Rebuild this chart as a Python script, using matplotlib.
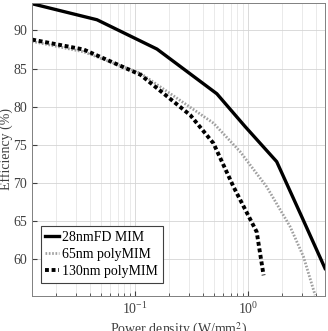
import matplotlib
matplotlib.use("Agg")
import matplotlib.pyplot as plt

plt.rcParams['font.family'] = ['Liberation Serif', 'DejaVu Serif']
plt.rcParams['mathtext.fontset'] = 'stix'

# 28nm FD MIM
x_fd = [0.0122, 0.0458, 0.1556, 0.528, 0.94, 1.79, 2.98, 4.8]
y_fd = [93.5, 91.4, 87.56, 81.7, 77.4, 72.8, 65.6, 58.8]

# 65nm polyMIM
x_65 = [0.0122, 0.0349, 0.1107, 0.493, 0.85, 1.46, 2.35, 3.09, 3.92]
y_65 = [88.56, 87.2, 84.4, 77.85, 74.1, 69.5, 64.3, 60.35, 55.3]

# 130nm polyMIM
x_130 = [0.0122, 0.0349, 0.111, 0.307, 0.493, 0.742, 1.19, 1.37]
y_130 = [88.8, 87.5, 84.2, 78.9, 75.2, 69.5, 63.6, 57.9]

fig = plt.figure(figsize=(3.28, 3.31), dpi=100)
ax = fig.add_axes([0.098, 0.106, 0.893, 0.885])

ax.plot(x_fd, y_fd, color='black', lw=2.4, label='28nmFD MIM')
ax.plot(x_65, y_65, color='#a0a0a0', lw=2.0, ls=(0, (0.6, 0.6)), label='65nm polyMIM')
ax.plot(x_130, y_130, color='black', lw=2.8, ls=(0, (1.0, 0.7)), label='130nm polyMIM')

ax.set_xscale('log')
ax.set_xlim(0.0122, 4.8)
ax.set_ylim(55.2, 93.6)
ax.set_yticks([60, 65, 70, 75, 80, 85, 90])
ax.grid(True, which='major', color='#d4d4d4', lw=0.6)
ax.grid(True, which='minor', axis='x', color='#e2e2e2', lw=0.5)
ax.tick_params(which='both', direction='in', labelsize=10, colors='#404040')
for s in ax.spines.values():
    s.set_color('#808080')
    s.set_linewidth(0.7)

ax.set_ylabel('Efficiency (%)', fontsize=10, color='#404040', labelpad=0)
ax.set_xlabel('Power density (W/mm$^2$)', fontsize=10, color='#404040', labelpad=3)

leg = ax.legend(loc='lower left', fontsize=10, handlelength=1.0, handletextpad=0.2,
                borderpad=0.35, labelspacing=0.3, fancybox=False, framealpha=1,
                bbox_to_anchor=(0.005, 0.02))
leg.get_frame().set_edgecolor('#404040')
leg.get_frame().set_linewidth(0.8)

fig.savefig('out.png', dpi=100)
